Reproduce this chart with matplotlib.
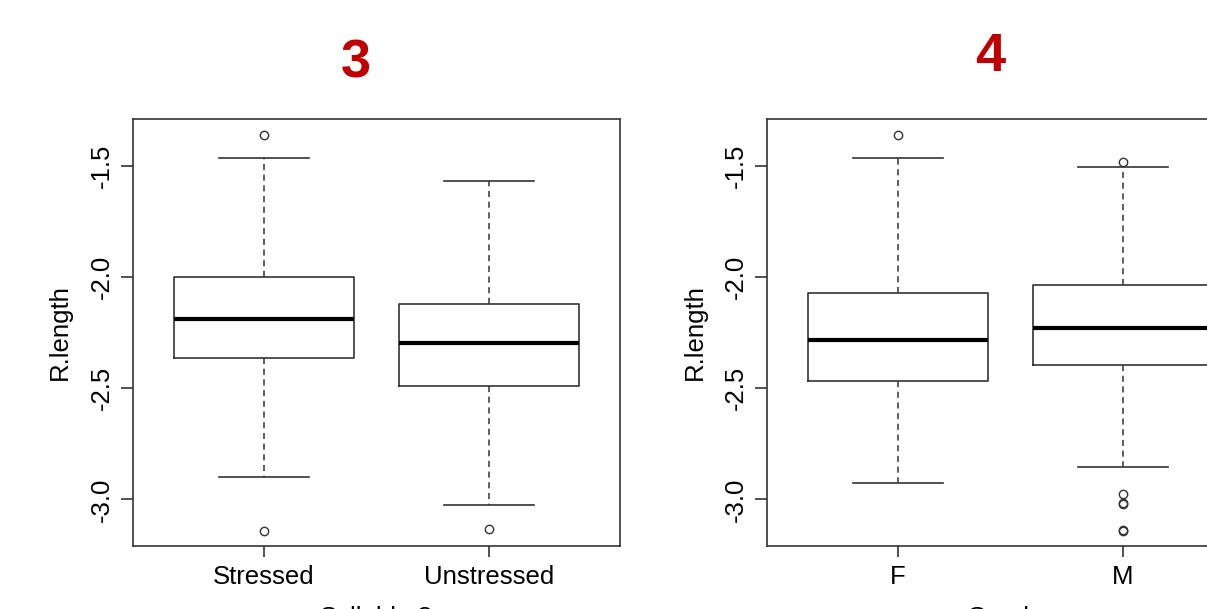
import matplotlib
matplotlib.use("Agg")
import matplotlib.pyplot as plt

plt.rcParams['font.family'] = ['Liberation Sans', 'DejaVu Sans']
plt.rcParams['axes.unicode_minus'] = False

# ---- data ----
left_groups = ["Stressed", "Unstressed"]
left_whislo = [-2.901, -3.026]
left_q1 = [-2.363, -2.488]
left_med = [-2.186, -2.294]
left_q3 = [-2.000, -2.118]
left_whishi = [-1.462, -1.564]
left_fliers = [[-1.360, -3.141], [-3.134]]

right_groups = ["F", "M"]
right_whislo = [-2.928, -2.856]
right_q1 = [-2.468, -2.393]
right_med = [-2.284, -2.227]
right_q3 = [-2.069, -2.033]
right_whishi = [-1.462, -1.505]
right_fliers = [[-1.360], [-1.482, -2.976, -3.015, -3.022, -3.139, -3.141]]

yticks = [-3.0, -2.5, -2.0, -1.5]
ytick_labels = ["-3.0", "-2.5", "-2.0", "-1.5"]
titles = ["3", "4"]
ylabel = "R.length"
xlabels = ["Syllable ?", "Gender"]

W, H = 1207, 609
fig = plt.figure(figsize=(W / 100, H / 100), dpi=100)

LC = '#333333'
FS = 18.5

def make_stats(groups, wl, q1, med, q3, wh, fl):
    return [dict(label=g, whislo=a, q1=b, med=c, q3=d, whishi=e, fliers=f)
            for g, a, b, c, d, e, f in zip(groups, wl, q1, med, q3, wh, fl)]

def draw(ax, stats, groups):
    ax.bxp(stats, positions=[1, 2], widths=0.8, capwidths=0.4,
           boxprops=dict(color=LC, lw=1.2),
           medianprops=dict(color='black', lw=3, solid_capstyle='butt'),
           whiskerprops=dict(color=LC, lw=1.1, linestyle=(0, (4, 3))),
           capprops=dict(color=LC, lw=1.2),
           flierprops=dict(marker='o', markerfacecolor='none',
                           markeredgecolor=LC, markersize=6, markeredgewidth=1))
    ax.set_xlim(0.42, 2.58)
    ax.set_ylim(-3.21, -1.287)
    ax.set_yticks(yticks)
    ax.set_yticklabels(ytick_labels)
    ax.set_xticks([1, 2])
    ax.set_xticklabels(groups)
    ax.tick_params(axis='y', length=9, width=1.2, color=LC, pad=5,
                   labelsize=FS, labelrotation=90)
    for lab in ax.get_yticklabels():
        lab.set_va('center')
    ax.tick_params(axis='x', length=8, width=1.2, color=LC, pad=6,
                   labelsize=FS)
    for sp in ax.spines.values():
        sp.set_color(LC)
        sp.set_linewidth(1.2)

ax1 = fig.add_axes([133 / W, 63 / H, 487 / W, 427 / H])
draw(ax1, make_stats(left_groups, left_whislo, left_q1, left_med, left_q3,
                     left_whishi, left_fliers), left_groups)

ax2 = fig.add_axes([767 / W, 63 / H, 486 / W, 427 / H])
draw(ax2, make_stats(right_groups, right_whislo, right_q1, right_med, right_q3,
                     right_whishi, right_fliers), right_groups)

# y labels
fig.text(60 / W, 1 - 332 / H, ylabel, rotation=90, ha='center', va='center',
         fontsize=FS)
fig.text(695 / W, 1 - 332 / H, ylabel, rotation=90, ha='center', va='center',
         fontsize=FS)

# x labels (cut off by the bottom edge, as in the reference)
fig.text(376 / W, (H - 625) / H, xlabels[0], ha='center', va='baseline',
         fontsize=FS)
fig.text(1010 / W, (H - 625) / H, xlabels[1], ha='center', va='baseline',
         fontsize=FS)

# panel numbers
fig.text(356 / W, 1 - 77 / H, titles[0], ha='center', va='baseline',
         fontsize=39, fontweight='bold', color='#C00000')
fig.text(990 / W, 1 - 71 / H, titles[1], ha='center', va='baseline',
         fontsize=39, fontweight='bold', color='#C00000')

fig.savefig("out.png", dpi=100)
